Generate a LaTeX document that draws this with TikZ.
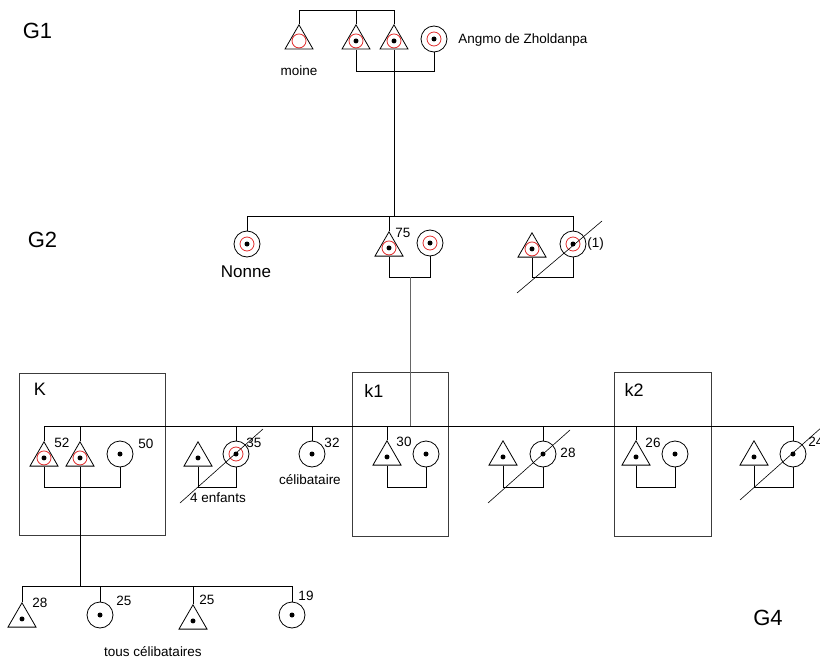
\documentclass[tikz,border=0pt]{standalone}
\usepackage{fontspec}
\setmainfont{Liberation Sans}
\usetikzlibrary{shapes.geometric}
\definecolor{kred}{RGB}{225,45,45}
\definecolor{boxc}{RGB}{60,60,60}
\begin{document}
\begin{tikzpicture}[x=1pt,y=-1pt,line width=0.8pt,
  tri/.style={regular polygon,regular polygon sides=3,draw,minimum size=32.4pt,inner sep=0pt},
  ind/.style={circle,draw,minimum size=26pt,inner sep=0pt},
  triR/.style={tri,path picture={\draw[kred,line width=0.8pt] ([yshift=-4pt]path picture bounding box.center) circle (7pt);
     \fill ([yshift=-4pt]path picture bounding box.center) circle (2.5pt);}},
  triO/.style={tri,path picture={\draw[kred,line width=0.8pt] ([yshift=-4pt]path picture bounding box.center) circle (7pt);}},
  triD/.style={tri,path picture={\fill ([yshift=-4pt]path picture bounding box.center) circle (2.5pt);}},
  circR/.style={ind,path picture={\draw[kred,line width=0.8pt] (path picture bounding box.center) circle (7pt);
     \fill (path picture bounding box.center) circle (2.5pt);}},
  circD/.style={ind,path picture={\fill (path picture bounding box.center) circle (2.5pt);}},
  lbl/.style={inner sep=0pt,font=\fontsize{13.5}{15}\selectfont},
  kin/.style={inner sep=0pt,font=\fontsize{18}{20}\selectfont},
  gen/.style={inner sep=0pt,font=\fontsize{22}{24}\selectfont},
  famline/.style={draw=black},
  kbox/.style={draw=boxc,line width=0.9pt},
  slash/.style={draw=black,line width=0.6pt}
]
\useasboundingbox (0,0) rectangle (820,661);

% generation labels
\node[gen] (G1) at (37.5,31) {G1};
\node[gen] (G2) at (42.5,240) {G2};
\node[gen] (G4) at (768,618) {G4};

% kin group boxes
\draw[kbox] (19,373) rectangle (165,535);
\draw[kbox] (352,372) rectangle (448,536);
\draw[kbox] (614,372) rectangle (711,536);
\node[kin] (Klab) at (40,389) {K};
\node[kin] (k1lab) at (374,391) {k1};
\node[kin] (k2lab) at (634,390) {k2};

% G1
\node[triO] (moine) at (299,41) {};
\node[triR] (g1b) at (356,41) {};
\node[triR] (g1c) at (394,41) {};
\node[circR] (angmo) at (434,39) {};
\node[lbl] (moinelab) at (299,71) {moine};
\node[lbl,anchor=west] (angmolab) at (458,40) {Angmo de Zholdanpa};

\coordinate (g1bar) at (0,10);
\draw[famline] (moine.north) -- (moine.north |- g1bar) -- (g1c.north |- g1bar) -- (g1c.north);
\draw[famline] (g1b.north) -- (g1b.north |- g1bar);
\coordinate (g1m) at (0,71);
\draw[famline] (g1b.south) -- (g1b.south |- g1m) -| (angmo.south);

% G2
\node[circR] (nonne) at (247,244) {};
\node[triR] (t75) at (389,248) {};
\node[circR] (w75) at (430,243) {};
\node[triR] (t1) at (532,249) {};
\node[circR] (c1) at (573,244) {};
\node[inner sep=0pt,font=\fontsize{17}{19}\selectfont] (nonnelab) at (246,272) {Nonne};
\node[lbl,anchor=west] (l75) at (395,233) {75};
\node[lbl,anchor=west] (l1) at (587,244) {(1)};

\coordinate (g2bar) at (0,216);
\draw[famline] (g1c.south) -- (g1c.south |- g2bar);
\draw[famline] (nonne.north) -- (nonne.north |- g2bar) -- (c1.north |- g2bar) -- (c1.north);
\draw[famline] (t75.north) -- (t75.north |- g2bar);
\coordinate (g2m) at (0,277);
\draw[famline] (t75.south) -- (t75.south |- g2m) -| (w75.south);
\draw[famline] (t1.south) -- (t1.south |- g2m) -| (c1.south);
\coordinate (s1a) at (517,293);
\coordinate (s1b) at (602,221);
\draw[slash] (s1a) -- (s1b);

% G3
\node[triR] (k52) at (44,458) {};
\node[triR] (k52b) at (80,458) {};
\node[circD] (w50) at (120,454) {};
\node[triD] (t35) at (198,458) {};
\node[circR] (c35) at (236,454) {};
\node[circD] (c32) at (312,454) {};
\node[triD] (k30) at (387,457) {};
\node[circD] (w30) at (426,454) {};
\node[triD] (t28) at (503,457) {};
\node[circD] (c28) at (543,454) {};
\node[triD] (k26) at (636,457) {};
\node[circD] (w26) at (675,454) {};
\node[triD] (t24) at (754,457) {};
\node[circD] (c24) at (793,454) {};

\node[lbl] (l52) at (62,443) {52};
\node[lbl] (l50) at (146,444) {50};
\node[lbl] (l35) at (254,443) {35};
\node[lbl] (lenf) at (218,498) {4 enfants};
\node[lbl] (l32) at (332,443) {32};
\node[lbl] (lcel) at (310,480) {célibataire};
\node[lbl] (l30) at (404,442) {30};
\node[lbl] (l28) at (568,453) {28};
\node[lbl] (l26) at (653,443) {26};
\node[lbl,anchor=west] (l24) at (808,442) {24};

\coordinate (d75) at (410,277);
\coordinate (g3bar) at (0,426);
\draw[draw=black!60] (d75) -- (d75 |- g3bar);
\draw[famline] (k52.north) -- (k52.north |- g3bar) -- (c24.north |- g3bar) -- (c24.north);
\foreach \n in {k52b,c35,c32,k30,c28,k26}
  \draw[famline] (\n.north) -- (\n.north |- g3bar);
\coordinate (g3m) at (0,487);
\draw[famline] (k52.south) -- (k52.south |- g3m) -| (w50.south);
\draw[famline] (t35.south) -- (t35.south |- g3m) -| (c35.south);
\draw[famline] (k30.south) -- (k30.south |- g3m) -| (w30.south);
\draw[famline] (t28.south) -- (t28.south |- g3m) -| (c28.south);
\draw[famline] (k26.south) -- (k26.south |- g3m) -| (w26.south);
\draw[famline] (t24.south) -- (t24.south |- g3m) -| (c24.south);
\coordinate (s2a) at (180,503); \coordinate (s2b) at (263,429);
\coordinate (s3a) at (488,503); \coordinate (s3b) at (570,430);
\coordinate (s4a) at (740,500); \coordinate (s4b) at (822,427);
\draw[slash] (s2a) -- (s2b);
\draw[slash] (s3a) -- (s3b);
\draw[slash] (s4a) -- (s4b);

% G4
\node[triD] (b28) at (22,619) {};
\node[circD] (b25c) at (100,615) {};
\node[triD] (b25t) at (193,621) {};
\node[circD] (b19) at (292,615) {};
\node[lbl] (lb28) at (40,603) {28};
\node[lbl] (lb25a) at (124,601) {25};
\node[lbl] (lb25b) at (207,600) {25};
\node[lbl] (lb19) at (306,596) {19};
\node[lbl] (ltous) at (153,652) {tous célibataires};

\coordinate (g4bar) at (0,586);
\draw[famline] (k52b.south) -- (k52b.south |- g4bar);
\draw[famline] (b28.north) -- (b28.north |- g4bar) -- (b19.north |- g4bar) -- (b19.north);
\draw[famline] (b25c.north) -- (b25c.north |- g4bar);
\draw[famline] (b25t.north) -- (b25t.north |- g4bar);
\end{tikzpicture}
\end{document}
